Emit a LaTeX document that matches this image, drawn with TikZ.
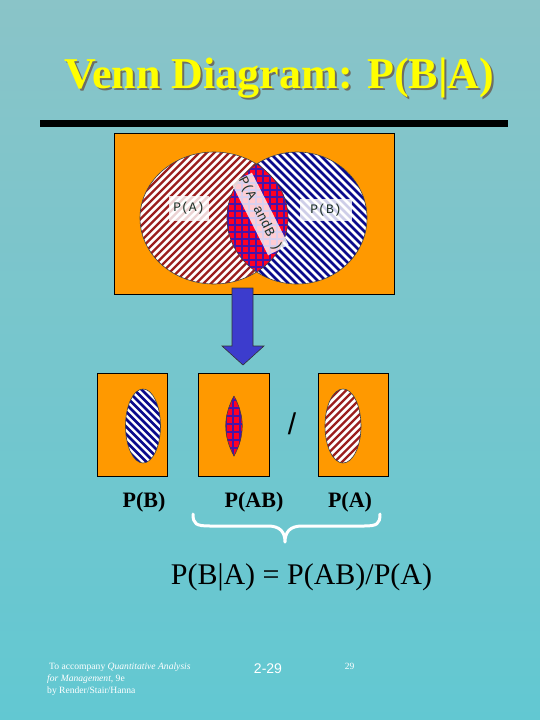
\documentclass[tikz,border=0pt]{standalone}
\usepackage{fontspec}
\setmainfont{Liberation Serif}
\newfontfamily\labelmono{Liberation Mono}
\newfontfamily\labelsans{Liberation Sans}

\definecolor{orangebox}{RGB}{255,153,0}
\definecolor{stripeA}{RGB}{155,30,30}
\definecolor{stripeB}{RGB}{10,10,140}
\definecolor{gridcol}{RGB}{70,20,170}
\definecolor{lensred}{RGB}{255,0,35}
\definecolor{arrowblue}{RGB}{60,60,205}
\definecolor{bgtop}{RGB}{138,196,200}
\definecolor{bgmid}{RGB}{122,210,215}
\definecolor{bgbot}{RGB}{98,200,210}
\definecolor{titleyellow}{RGB}{255,255,0}
\definecolor{titleshade}{RGB}{110,110,100}
\definecolor{labeltext}{RGB}{30,50,40}

\begin{document}
\begin{tikzpicture}[x=1pt,y=-1pt,
  panel/.style={fill=orangebox, draw=black, line width=0.6pt},
  stripeAline/.style={draw=stripeA, line width=2.4pt},
  stripeBline/.style={draw=stripeB, line width=2.8pt},
  gridline/.style={draw=gridcol, line width=1.1pt},
  outline/.style={draw=black!75, line width=0.6pt},
  lbl/.style={fill=white, fill opacity=0.8, text opacity=1, text=labeltext, font=\labelmono\fontsize{13}{13}\selectfont, inner sep=0pt},
  biglabel/.style={font=\fontsize{22}{22}\selectfont\bfseries, anchor=base},
  foot/.style={text=white, font=\fontsize{9.6}{9.6}\selectfont, anchor=base west, inner sep=0pt}
]
\useasboundingbox (0,0) rectangle (540,720);
\shade[top color=bgtop, middle color=bgmid, bottom color=bgbot] (0,0) rectangle (540,720);

% title with shadow (one text node)
\node[font=\fontsize{44}{44}\selectfont\bfseries, anchor=base, inner sep=0pt] (title) at (279.5,88)
  {\makebox[0pt][l]{\hspace{2pt}\raisebox{-2pt}{\textcolor{titleshade}{Venn Diagram: P(B|A)}}}\textcolor{titleyellow}{Venn Diagram: P(B|A)}};
\fill[black] (40,120) rectangle (508,127);

% big panel
\node[panel, minimum width=280pt, minimum height=161pt, inner sep=0pt] (bigpanel) at (254,213.5) {};
% set A
\begin{scope}
  \clip (214,218) ellipse [x radius=74pt, y radius=66pt];
  \fill[white] (130,140) rectangle (300,300);
  \foreach \c in {-170,-162.5,...,170}
    \draw[stripeAline] (214+\c-90,218+90) -- (214+\c+90,218-90);
\end{scope}
% set B
\begin{scope}
  \clip (297,218) ellipse [x radius=70pt, y radius=66pt];
  \fill[white] (220,140) rectangle (380,300);
  \foreach \c in {-170,-162,...,170}
    \draw[stripeBline] (297+\c-90,218-90) -- (297+\c+90,218+90);
\end{scope}
% intersection
\begin{scope}
  \clip (214,218) ellipse [x radius=74pt, y radius=66pt];
  \clip (297,218) ellipse [x radius=70pt, y radius=66pt];
  \fill[lensred] (220,140) rectangle (300,300);
  \foreach \c in {221,228,...,300}
    \draw[gridline] (\c,145) -- (\c,295);
  \foreach \c in {148,155,...,295}
    \draw[gridline] (220,\c) -- (300,\c);
\end{scope}
\draw[outline] (214,218) ellipse [x radius=74pt, y radius=66pt];
\draw[outline] (297,218) ellipse [x radius=70pt, y radius=66pt];

\node[lbl, minimum width=40pt, minimum height=25pt] (pa) at (189,208) {P(A)};
\node[lbl, minimum width=52pt, minimum height=22pt] (pb) at (326,210) {P(B)};
\node[lbl, rotate=-63, minimum width=77pt, minimum height=23pt, font=\labelmono\fontsize{13.5}{13.5}\selectfont] (pab) at (260,214) {P(A andB )};

% arrow
\filldraw[fill=arrowblue, draw=black!80, line width=0.6pt]
  (232,288) -- (253,288) -- (253,346) -- (264,346) -- (243,365) -- (222,346) -- (232,346) -- cycle;

% small panels
\node[panel, minimum width=70pt, minimum height=103pt, inner sep=0pt] (boxB) at (132,424.5) {};
\node[panel, minimum width=71pt, minimum height=103pt, inner sep=0pt] (boxAB) at (233.5,424.5) {};
\node[panel, minimum width=70pt, minimum height=103pt, inner sep=0pt] (boxA) at (353,424.5) {};

\begin{scope}
  \clip (143,426) ellipse [x radius=17.5pt, y radius=37pt];
  \fill[white] (120,385) rectangle (166,467);
  \foreach \c in {-70,-62.5,...,70}
    \draw[stripeBline] (143+\c-45,426-45) -- (143+\c+45,426+45);
\end{scope}
\draw[outline] (143,426) ellipse [x radius=17.5pt, y radius=37pt];

\begin{scope}
  \clip (234,396) .. controls (223,416) and (223,436) .. (234,456) .. controls (245,436) and (245,416) .. (234,396);
  \fill[lensred] (220,390) rectangle (250,460);
  \foreach \c in {226,233,...,245}
    \draw[gridline] (\c,390) -- (\c,460);
  \foreach \c in {400,408,...,458}
    \draw[gridline] (220,\c) -- (250,\c);
\end{scope}
\draw[outline] (234,396) .. controls (223,416) and (223,436) .. (234,456) .. controls (245,436) and (245,416) .. (234,396);

\begin{scope}
  \clip (343,426) ellipse [x radius=18pt, y radius=37pt];
  \fill[white] (320,385) rectangle (366,467);
  \foreach \c in {-70,-62.5,...,70}
    \draw[stripeAline] (343+\c-45,426+45) -- (343+\c+45,426-45);
\end{scope}
\draw[outline] (343,426) ellipse [x radius=18pt, y radius=37pt];

\node[font=\labelsans\fontsize{30}{30}\selectfont] (slash) at (292,424) {/};

\node[biglabel] (lB) at (144,507) {P(B)};
\node[biglabel] (lAB) at (254,507) {P(AB)};
\node[biglabel] (lA) at (350,507) {P(A)};

% brace
\draw[white, line width=3pt, line cap=round, line join=round]
  (193,514) .. controls (193,524) and (196,526) .. (210,526) -- (268,526)
  .. controls (280,526) and (285,532) .. (285,542)
  .. controls (285,532) and (290,526) .. (302,526) -- (364,526)
  .. controls (377,526) and (380,524) .. (380,514);

\node[font=\fontsize{30}{30}\selectfont, anchor=base] (formula) at (301.5,584) {P(B|A) = P(AB)/P(A)};

% footer
\node[foot] (f1) at (49,669) {To accompany \textit{Quantitative Analysis}};
\node[foot] (f2) at (47,681) {\textit{for Management,} 9e};
\node[foot] (f3) at (47,693) {by Render/Stair/Hanna};
\node[text=white, font=\labelsans\fontsize{14}{14}\selectfont, anchor=base] (pg) at (268,673) {2-29};
\node[text=white, font=\fontsize{9.5}{9.5}\selectfont, anchor=base] (pg2) at (349.5,669) {29};
\end{tikzpicture}
\end{document}
